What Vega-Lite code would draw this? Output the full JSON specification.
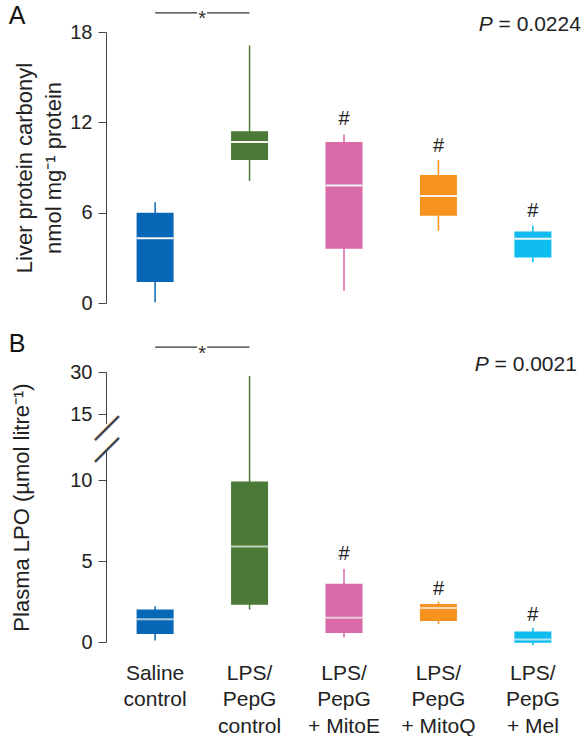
{
  "$schema": "https://vega.github.io/schema/vega-lite/v6.json",
  "padding": {"left": 8, "top": 4, "right": 0, "bottom": 0},
  "spacing": 69,
  "bounds": "flush",
  "config": {
    "view": {"stroke": null},
    "font": "Liberation Sans",
    "text": {"font": "Liberation Sans", "color": "#222"},
    "axis": {"labelFont": "Liberation Sans", "titleFont": "Liberation Sans", "grid": false, "domainColor": "#444", "tickColor": "#444", "labelColor": "#222", "titleColor": "#222", "titleFontWeight": "normal"}
  },
  "datasets": {
    "boxA": [
      {"g": "Saline control", "lo": 0.05, "q1": 1.4, "med": 4.3, "q3": 6.0, "hi": 6.7, "hashY": null},
      {"g": "LPS/PepG control", "lo": 8.1, "q1": 9.5, "med": 10.7, "q3": 11.4, "hi": 17.1, "hashY": null},
      {"g": "LPS/PepG + MitoE", "lo": 0.8, "q1": 3.6, "med": 7.8, "q3": 10.7, "hi": 11.2, "hashY": 11.8},
      {"g": "LPS/PepG + MitoQ", "lo": 4.8, "q1": 5.8, "med": 7.1, "q3": 8.5, "hi": 9.5, "hashY": 10.0},
      {"g": "LPS/PepG + Mel", "lo": 2.7, "q1": 3.02, "med": 4.27, "q3": 4.75, "hi": 5.15, "hashY": 5.73}
    ],
    "boxB": [
      {"g": "Saline control", "lo": 0.1, "q1": 0.5, "med": 1.4, "q3": 2.0, "hi": 2.2, "hashY": null},
      {"g": "LPS/PepG control", "lo": 2.0, "q1": 2.3, "med": 5.9, "q3": 9.9, "hi": 28.6, "hashY": null},
      {"g": "LPS/PepG + MitoE", "lo": 0.3, "q1": 0.55, "med": 1.5, "q3": 3.6, "hi": 4.5, "hashY": 5.06},
      {"g": "LPS/PepG + MitoQ", "lo": 1.1, "q1": 1.3, "med": 2.1, "q3": 2.35, "hi": 2.5, "hashY": 2.9},
      {"g": "LPS/PepG + Mel", "lo": -0.2, "q1": -0.05, "med": 0.16, "q3": 0.65, "hi": 0.88, "hashY": 1.3}
    ]
  },
  "vconcat": [
    {
      "width": 476,
      "height": 271,
      "data": {"name": "boxA"},
      "encoding": {
        "x": {"field": "g", "type": "nominal", "sort": null, "axis": null,
          "scale": {"domain": ["Saline control", "LPS/PepG control", "LPS/PepG + MitoE", "LPS/PepG + MitoQ", "LPS/PepG + Mel"], "paddingInner": 0, "paddingOuter": 0.02}}
      },
      "layer": [
        {
          "mark": {"type": "rule", "strokeWidth": 1.5},
          "encoding": {
            "y": {"field": "lo", "type": "quantitative",
              "scale": {"domain": [0, 18], "nice": false, "zero": false},
              "axis": {"values": [0, 6, 12, 18], "title": ["Liver protein carbonyl", "nmol mg⁻¹ protein"], "tickSize": 8, "labelPadding": 6, "labelFontSize": 20, "titleFontSize": 22, "titleLineHeight": 29, "titlePadding": 4}},
            "y2": {"field": "hi"},
            "color": {"field": "g", "type": "nominal", "legend": null,
              "scale": {"domain": ["Saline control", "LPS/PepG control", "LPS/PepG + MitoE", "LPS/PepG + MitoQ", "LPS/PepG + Mel"], "range": ["#0667b6", "#4b7a36", "#da6aa7", "#f6921e", "#0fbcef"]}}
          }
        },
        {
          "mark": {"type": "bar", "size": 37},
          "encoding": {
            "y": {"field": "q1", "type": "quantitative"},
            "y2": {"field": "q3"},
            "color": {"field": "g", "type": "nominal", "legend": null}
          }
        },
        {
          "mark": {"type": "tick", "color": "#f4f4f4", "thickness": 2, "size": 37, "opacity": 1},
          "encoding": {"y": {"field": "med", "type": "quantitative"}}
        },
        {
          "transform": [{"filter": {"field": "hashY", "valid": true}}],
          "mark": {"type": "text", "fontSize": 20, "baseline": "alphabetic"},
          "encoding": {"y": {"field": "hashY", "type": "quantitative"}, "text": {"value": "#"}}
        },
        {
          "data": {"values": [{"from": "Saline control", "to": "LPS/PepG control", "y": 19.27}]},
          "mark": {"type": "rule", "color": "#333", "strokeWidth": 1.2, "strokeDash": [42, 10, 43], "clip": false},
          "encoding": {"x": {"field": "from", "type": "nominal"}, "x2": {"field": "to"}, "y": {"field": "y", "type": "quantitative"}}
        },
        {
          "data": {"values": [{"g": "Saline control", "y": 18.45, "t": "*"}]},
          "mark": {"type": "text", "fontSize": 20, "baseline": "alphabetic", "dx": 47, "color": "#333"},
          "encoding": {"x": {"field": "g", "type": "nominal"}, "y": {"field": "y", "type": "quantitative"}, "text": {"field": "t"}}
        },
        {
          "data": {"values": [{"g": "Saline control", "y": 18.53, "t": "A"}]},
          "mark": {"type": "text", "fontSize": 25, "baseline": "alphabetic", "dx": -138, "color": "#111"},
          "encoding": {"x": {"field": "g", "type": "nominal"}, "y": {"field": "y", "type": "quantitative"}, "text": {"field": "t"}}
        },
        {
          "data": {"values": [{"g": "LPS/PepG + Mel", "y": 18.05, "t": "= 0.0224"}]},
          "mark": {"type": "text", "fontSize": 21, "baseline": "alphabetic", "align": "right", "dx": 48},
          "encoding": {"x": {"field": "g", "type": "nominal"}, "y": {"field": "y", "type": "quantitative"}, "text": {"field": "t"}}
        },
        {
          "data": {"values": [{"g": "LPS/PepG + Mel", "y": 18.05, "t": "P"}]},
          "mark": {"type": "text", "fontSize": 21, "baseline": "alphabetic", "align": "right", "dx": -40, "fontStyle": "italic"},
          "encoding": {"x": {"field": "g", "type": "nominal"}, "y": {"field": "y", "type": "quantitative"}, "text": {"field": "t"}}
        }
      ]
    },
    {
      "width": 476,
      "height": 270,
      "data": {"name": "boxB"},
      "encoding": {
        "x": {"field": "g", "type": "nominal", "sort": null,
          "scale": {"domain": ["Saline control", "LPS/PepG control", "LPS/PepG + MitoE", "LPS/PepG + MitoQ", "LPS/PepG + Mel"], "paddingInner": 0, "paddingOuter": 0.02},
          "axis": {"title": null, "domain": false, "ticks": false, "labelAngle": 0, "labelFontSize": 21, "labelLineHeight": 26.5, "labelPadding": 20, "labelOverlap": false,
            "labelExpr": "datum.value == 'Saline control' ? ['Saline', 'control'] : ['LPS/', 'PepG', replace(datum.value, 'LPS/PepG ', '')]"}}
      },
      "layer": [
        {
          "mark": {"type": "rule", "strokeWidth": 1.5},
          "encoding": {
            "y": {"field": "lo", "type": "quantitative",
              "scale": {"domain": [0, 10, 15, 30], "range": [270, 108, 42, 0], "nice": false, "zero": false},
              "axis": {"values": [0, 5, 10, 15, 30], "title": "Plasma LPO (µmol litre⁻¹)", "tickSize": 8, "labelPadding": 6, "labelFontSize": 20, "titleFontSize": 22, "titlePadding": 36}},
            "y2": {"field": "hi"},
            "color": {"field": "g", "type": "nominal", "legend": null,
              "scale": {"domain": ["Saline control", "LPS/PepG control", "LPS/PepG + MitoE", "LPS/PepG + MitoQ", "LPS/PepG + Mel"], "range": ["#0667b6", "#4b7a36", "#da6aa7", "#f6921e", "#0fbcef"]}}
          }
        },
        {
          "mark": {"type": "bar", "size": 37},
          "encoding": {
            "y": {"field": "q1", "type": "quantitative"},
            "y2": {"field": "q3"},
            "color": {"field": "g", "type": "nominal", "legend": null}
          }
        },
        {
          "mark": {"type": "tick", "color": "#f4f4f4", "thickness": 2, "size": 37},
          "encoding": {"y": {"field": "med", "type": "quantitative"}}
        },
        {
          "transform": [{"filter": {"field": "hashY", "valid": true}}],
          "mark": {"type": "text", "fontSize": 20, "baseline": "alphabetic"},
          "encoding": {"y": {"field": "hashY", "type": "quantitative"}, "text": {"value": "#"}}
        },
        {
          "data": {"values": [{"g": "Saline control", "y": 13.2}]},
          "mark": {"type": "text", "fontSize": 24, "baseline": "middle", "dx": 0, "dy": 49, "angle": 90, "color": "white", "stroke": "white", "strokeWidth": 3},
          "encoding": {"x": {"field": "g", "type": "nominal"}, "y": {"field": "y", "type": "quantitative"}, "text": {"value": "—"}}
        },
        {
          "data": {"values": [{"g": "Saline control", "y": 14.0}, {"g": "Saline control", "y": 12.35}]},
          "mark": {"type": "text", "fontSize": 34, "baseline": "middle", "dx": -34.7, "dy": -34.7, "angle": 315, "color": "#444"},
          "encoding": {"x": {"field": "g", "type": "nominal"}, "y": {"field": "y", "type": "quantitative"}, "text": {"value": "—"}}
        },
        {
          "data": {"values": [{"from": "Saline control", "to": "LPS/PepG control", "y": 38.9}]},
          "mark": {"type": "rule", "color": "#333", "strokeWidth": 1.2, "strokeDash": [42, 10, 43], "clip": false},
          "encoding": {"x": {"field": "from", "type": "nominal"}, "x2": {"field": "to"}, "y": {"field": "y", "type": "quantitative"}}
        },
        {
          "data": {"values": [{"g": "Saline control", "y": 34.3, "t": "*"}]},
          "mark": {"type": "text", "fontSize": 20, "baseline": "alphabetic", "dx": 47, "color": "#333"},
          "encoding": {"x": {"field": "g", "type": "nominal"}, "y": {"field": "y", "type": "quantitative"}, "text": {"field": "t"}}
        },
        {
          "data": {"values": [{"g": "Saline control", "y": 37.1, "t": "B"}]},
          "mark": {"type": "text", "fontSize": 25, "baseline": "alphabetic", "dx": -138, "color": "#111"},
          "encoding": {"x": {"field": "g", "type": "nominal"}, "y": {"field": "y", "type": "quantitative"}, "text": {"field": "t"}}
        },
        {
          "data": {"values": [{"g": "LPS/PepG + Mel", "y": 30.3, "t": "= 0.0021"}]},
          "mark": {"type": "text", "fontSize": 21, "baseline": "alphabetic", "align": "right", "dx": 44},
          "encoding": {"x": {"field": "g", "type": "nominal"}, "y": {"field": "y", "type": "quantitative"}, "text": {"field": "t"}}
        },
        {
          "data": {"values": [{"g": "LPS/PepG + Mel", "y": 30.3, "t": "P"}]},
          "mark": {"type": "text", "fontSize": 21, "baseline": "alphabetic", "align": "right", "dx": -44, "fontStyle": "italic"},
          "encoding": {"x": {"field": "g", "type": "nominal"}, "y": {"field": "y", "type": "quantitative"}, "text": {"field": "t"}}
        }
      ]
    }
  ]
}
